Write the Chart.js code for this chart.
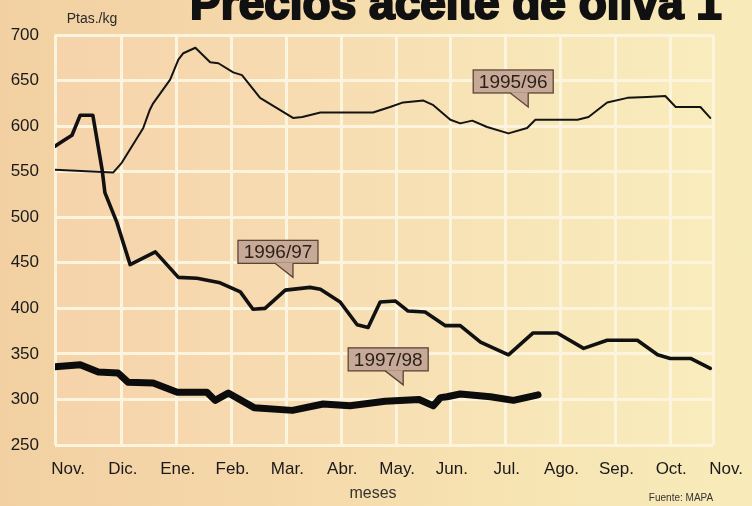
<!DOCTYPE html>
<html>
<head>
<meta charset="utf-8">
<script src="https://cdn.jsdelivr.net/npm/chart.js@4.4.0/dist/chart.umd.min.js"></script>
<style>
  html, body { margin: 0; padding: 0; }
  body {
    width: 752px; height: 506px; overflow: hidden;
    background: linear-gradient(90deg, #f2d0a2 0%, #f5d8aa 35%, #f7e4b3 70%, #f8ebba 100%);
  }
</style>
</head>
<body>
<canvas id="myChart" width="752" height="506"></canvas>
<script>
// etiquetas del eje x (meses, de noviembre a noviembre)
var meses = ['Nov.', 'Dic.', 'Ene.', 'Feb.', 'Mar.', 'Abr.', 'May.', 'Jun.', 'Jul.', 'Ago.', 'Sep.', 'Oct.', 'Nov.'];
var ticksY = [250, 300, 350, 400, 450, 500, 550, 600, 650, 700];

// campaña 1995/96 (posicion en meses desde noviembre, ptas./kg)
var mes9596 = [-0.22, 0.84, 1.0, 1.39, 1.51, 1.57, 1.88, 2.03, 2.12, 2.34, 2.61, 2.76, 3.03, 3.19, 3.52, 4.12, 4.29, 4.62, 5.58, 5.89, 6.13, 6.5, 6.68, 6.99, 7.17, 7.39, 7.66, 8.05, 8.39, 8.54, 9.31, 9.51, 9.85, 10.22, 10.58, 10.91, 11.1, 11.55, 11.73];
var precio9596 = [552, 549, 560, 598, 618, 625, 651, 673, 680, 686, 670, 669, 659, 656, 631, 609, 610, 615, 615, 621, 626, 628, 623, 607, 603, 606, 599, 592, 598, 607, 607, 610, 626, 631, 632, 633, 621, 621, 609];

// campaña 1996/97
var mes9697 = [-0.22, -0.04, 0.09, 0.24, 0.47, 0.64, 0.69, 0.91, 1.15, 1.61, 2.03, 2.37, 2.79, 3.16, 3.39, 3.61, 3.98, 4.43, 4.62, 4.98, 5.29, 5.49, 5.71, 5.99, 6.22, 6.53, 6.9, 7.17, 7.54, 8.05, 8.5, 8.94, 9.42, 9.85, 10.4, 10.77, 11.0, 11.37, 11.73];
var precio9697 = [578, 585, 590, 612, 612, 552, 527, 494, 448, 462, 434, 433, 428, 418, 399, 400, 420, 423, 421, 407, 382, 379, 407, 408, 397, 396, 381, 381, 363, 349, 373, 373, 356, 365, 365, 349, 345, 345, 334];

// campaña 1997/98
var mes9798 = [-0.22, 0.24, 0.57, 0.93, 1.11, 1.57, 2.01, 2.55, 2.7, 2.94, 3.41, 4.11, 4.67, 5.16, 5.8, 6.42, 6.68, 6.81, 6.93, 7.17, 7.72, 8.14, 8.59];
var precio9798 = [336, 338, 330, 329, 319, 318, 308, 308, 299, 307, 291, 288, 295, 293, 298, 300, 293, 302, 303, 306, 303, 299, 305];

// rotulos de cada campaña (punta de la flecha en mes / precio)
var rotulos = ['1995/96', '1996/97', '1997/98'];
var rotuloMes = [8.41, 4.12, 6.13];
var rotuloPrecio = [621, 434, 316];

function puntos(xs, ys) {
  return xs.map(function (x, i) { return { x: x, y: ys[i] }; });
}

var fuente = 'Liberation Sans, Arial, Helvetica, sans-serif';

// fondo del area del grafico
var fondoPlugin = {
  id: 'fondo',
  beforeDraw: function (chart) {
    var a = chart.chartArea, ctx = chart.ctx;
    var g = ctx.createLinearGradient(a.left, 0, a.right, 0);
    g.addColorStop(0, '#f6d3ab');
    g.addColorStop(0.4, '#f7dcb1');
    g.addColorStop(0.75, '#f8e7b8');
    g.addColorStop(1, '#f9ecbd');
    ctx.save();
    ctx.fillStyle = g;
    ctx.fillRect(a.left, a.top, a.right - a.left, a.bottom - a.top);
    ctx.restore();
  }
};

// rotulos con flecha
var rotulosPlugin = {
  id: 'rotulos',
  afterDatasetsDraw: function (chart) {
    var ctx = chart.ctx, xs = chart.scales.x, ys = chart.scales.y;
    ctx.save();
    rotulos.forEach(function (txt, i) {
      var tx = xs.getPixelForValue(rotuloMes[i]);
      var ty = ys.getPixelForValue(rotuloPrecio[i]);
      var l = tx - 55, r = tx + 25, t = ty - 37, b = ty - 14;
      ctx.fillStyle = '#c6a997';
      ctx.strokeStyle = '#5b4535';
      ctx.lineWidth = 1.3;
      ctx.fillRect(l, t, r - l, b - t);
      ctx.strokeRect(l, t, r - l, b - t);
      ctx.beginPath();
      ctx.moveTo(tx - 18, b - 0.7);
      ctx.lineTo(tx, ty);
      ctx.lineTo(tx, b - 0.7);
      ctx.closePath();
      ctx.fill();
      ctx.beginPath();
      ctx.moveTo(tx - 18, b);
      ctx.lineTo(tx, ty);
      ctx.lineTo(tx, b);
      ctx.stroke();
      ctx.fillStyle = '#2b1f17';
      ctx.font = '19px ' + fuente;
      ctx.textAlign = 'center';
      ctx.textBaseline = 'middle';
      ctx.fillText(txt, (l + r) / 2, (t + b) / 2 + 1);
    });
    ctx.restore();
  }
};

// textos: titulo, unidades, meses, fuente
var textosPlugin = {
  id: 'textos',
  afterDraw: function (chart) {
    var ctx = chart.ctx, xs = chart.scales.x;
    ctx.save();
    ctx.fillStyle = '#111';
    ctx.strokeStyle = '#111';
    ctx.textBaseline = 'alphabetic';
    ctx.textAlign = 'center';
    ctx.font = 'bold 46px ' + fuente;
    ctx.lineWidth = 2.2;
    ctx.fillText('Precios aceite de oliva 1', 456, 19);
    ctx.strokeText('Precios aceite de oliva 1', 456, 19);

    ctx.fillStyle = '#2a2a2a';
    ctx.font = '14px ' + fuente;
    ctx.fillText('Ptas./kg', 92, 23);

    ctx.font = '17px ' + fuente;
    ctx.fillStyle = '#1a1a1a';
    meses.forEach(function (m, i) {
      ctx.fillText(m, xs.getPixelForValue(i) + 1, 474);
    });

    ctx.font = '16px ' + fuente;
    ctx.fillStyle = '#333';
    ctx.fillText('meses', 373, 498);

    ctx.font = '10px ' + fuente;
    ctx.fillText('Fuente: MAPA', 681, 501);
    ctx.restore();
  }
};

var ctx = document.getElementById('myChart');
var myChart = new Chart(ctx, {
  type: 'line',
  data: {
    datasets: [{
      label: '1995/96',
      data: puntos(mes9596, precio9596),
      borderColor: '#141414',
      borderWidth: 2,
      order: 3
    }, {
      label: '1996/97',
      data: puntos(mes9697, precio9697),
      borderColor: '#111',
      borderWidth: 3.6,
      order: 2
    }, {
      label: '1997/98',
      data: puntos(mes9798, precio9798),
      borderColor: '#0c0c0c',
      borderWidth: 7,
      order: 1
    }]
  },
  options: {
    responsive: false,
    animation: false,
    events: [],
    layout: { padding: { left: 0, right: 39, top: 35, bottom: 61 } },
    elements: {
      line: { tension: 0, borderCapStyle: 'round', borderJoinStyle: 'round', fill: false },
      point: { radius: 0 }
    },
    plugins: {
      legend: { display: false },
      tooltip: { enabled: false },
      title: { display: false }
    },
    scales: {
      x: {
        type: 'linear',
        min: -0.22,
        max: 11.78,
        afterBuildTicks: function (s) {
          var t = [{ value: s.min }];
          for (var i = 1; i < meses.length - 1; i++) t.push({ value: i });
          t.push({ value: s.max });
          s.ticks = t;
        },
        afterFit: function (s) { s.height = 0; },
        ticks: { display: false },
        grid: { color: '#fdf4dd', lineWidth: 3, drawTicks: false },
        border: { display: false }
      },
      y: {
        min: 250,
        max: 700,
        afterBuildTicks: function (s) {
          s.ticks = ticksY.map(function (v) { return { value: v }; });
        },
        afterFit: function (s) { s.width = 55; },
        ticks: {
          padding: 16,
          color: '#1a1a1a',
          font: { family: fuente, size: 17 }
        },
        grid: { color: '#fdf4dd', lineWidth: 3, drawTicks: false },
        border: { display: false }
      }
    }
  },
  plugins: [fondoPlugin, rotulosPlugin, textosPlugin]
});
</script>
</body>
</html>
